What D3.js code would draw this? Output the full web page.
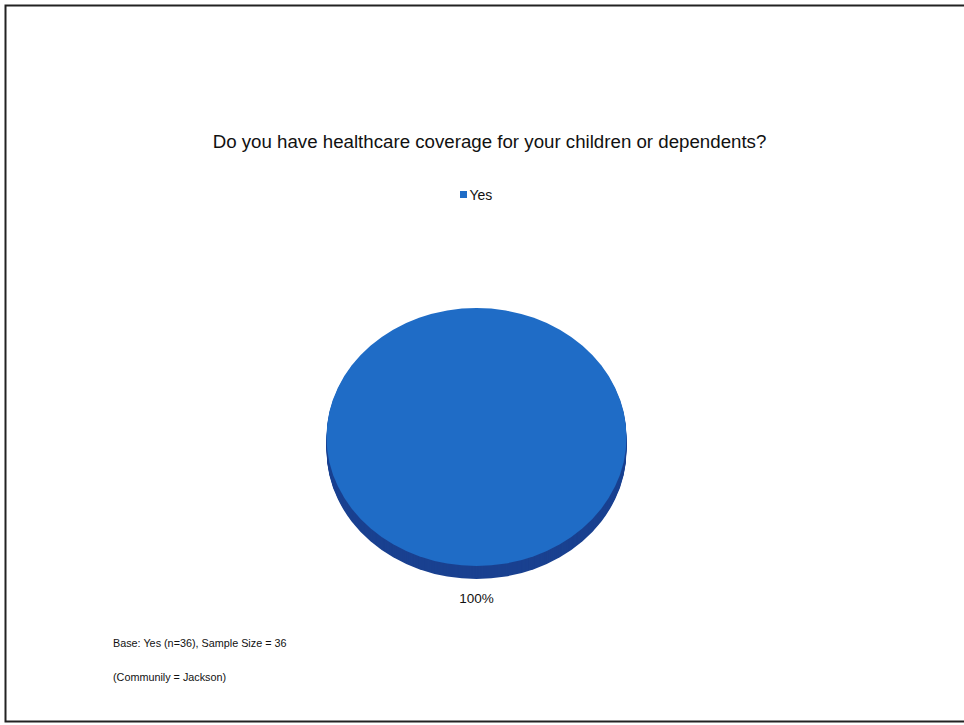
<!DOCTYPE html>
<html>
<head>
<meta charset="utf-8">
<script src="https://cdn.jsdelivr.net/npm/d3@7"></script>
<style>
  html, body { margin: 0; padding: 0; background: #fff; }
  svg { display: block; }
  text { font-family: "Liberation Sans", Arial, sans-serif; fill: #111; }
</style>
</head>
<body>
<svg id="chart" width="964" height="725"></svg>
<script>
const title = "Do you have healthcare coverage for your children or dependents?";
const categories = ["Yes"];
const values = [100];
const labels = ["100%"];
const colors = ["#1f6cc6"];
const sideColors = ["#1a4190"];
const footnotes = ["Base: Yes (n=36), Sample Size = 36", "(Communily = Jackson)"];

const svg = d3.select("#chart");

// frame
svg.append("path")
  .attr("d", "M964,5.5 H5.5 V721.5 H964")
  .attr("fill", "none").attr("stroke", "#222").attr("stroke-width", 2);

// title
svg.append("text")
  .attr("x", 489.5).attr("y", 148)
  .attr("text-anchor", "middle")
  .attr("font-size", 18.7)
  .text(title);

// legend
const legend = svg.append("g").attr("transform", "translate(460,195)");
categories.forEach((c, i) => {
  legend.append("rect").attr("x", 0).attr("y", -4).attr("width", 7).attr("height", 7)
    .attr("fill", colors[i]);
  legend.append("text").attr("x", 9.5).attr("y", 4.5).attr("font-size", 14).text(c);
});

// pie (3D look)
const cx = 476.5, cy = 437, rx = 150, ry = 129, depth = 13;
const pie = d3.pie().sort(null).value(d => d)(values);
const arc = d3.arc().innerRadius(0).outerRadius(rx);
const g = svg.append("g");
for (let k = depth; k > 0; k--) {
  g.append("g")
    .attr("transform", `translate(${cx},${cy + k}) scale(1,${ry / rx})`)
    .selectAll("path").data(pie).join("path")
    .attr("d", arc).attr("fill", (d, i) => sideColors[i]);
}
g.append("g")
  .attr("transform", `translate(${cx},${cy}) scale(1,${ry / rx})`)
  .selectAll("path").data(pie).join("path")
  .attr("d", arc).attr("fill", (d, i) => colors[i]);

// data label
svg.append("text")
  .attr("x", cx).attr("y", 603)
  .attr("text-anchor", "middle")
  .attr("font-size", 13.5)
  .text(labels[0]);

// footnotes
svg.selectAll(".foot").data(footnotes).join("text")
  .attr("class", "foot")
  .attr("x", 113).attr("y", (d, i) => 647 + i * 34)
  .attr("font-size", 10.8)
  .text(d => d);
</script>
</body>
</html>
